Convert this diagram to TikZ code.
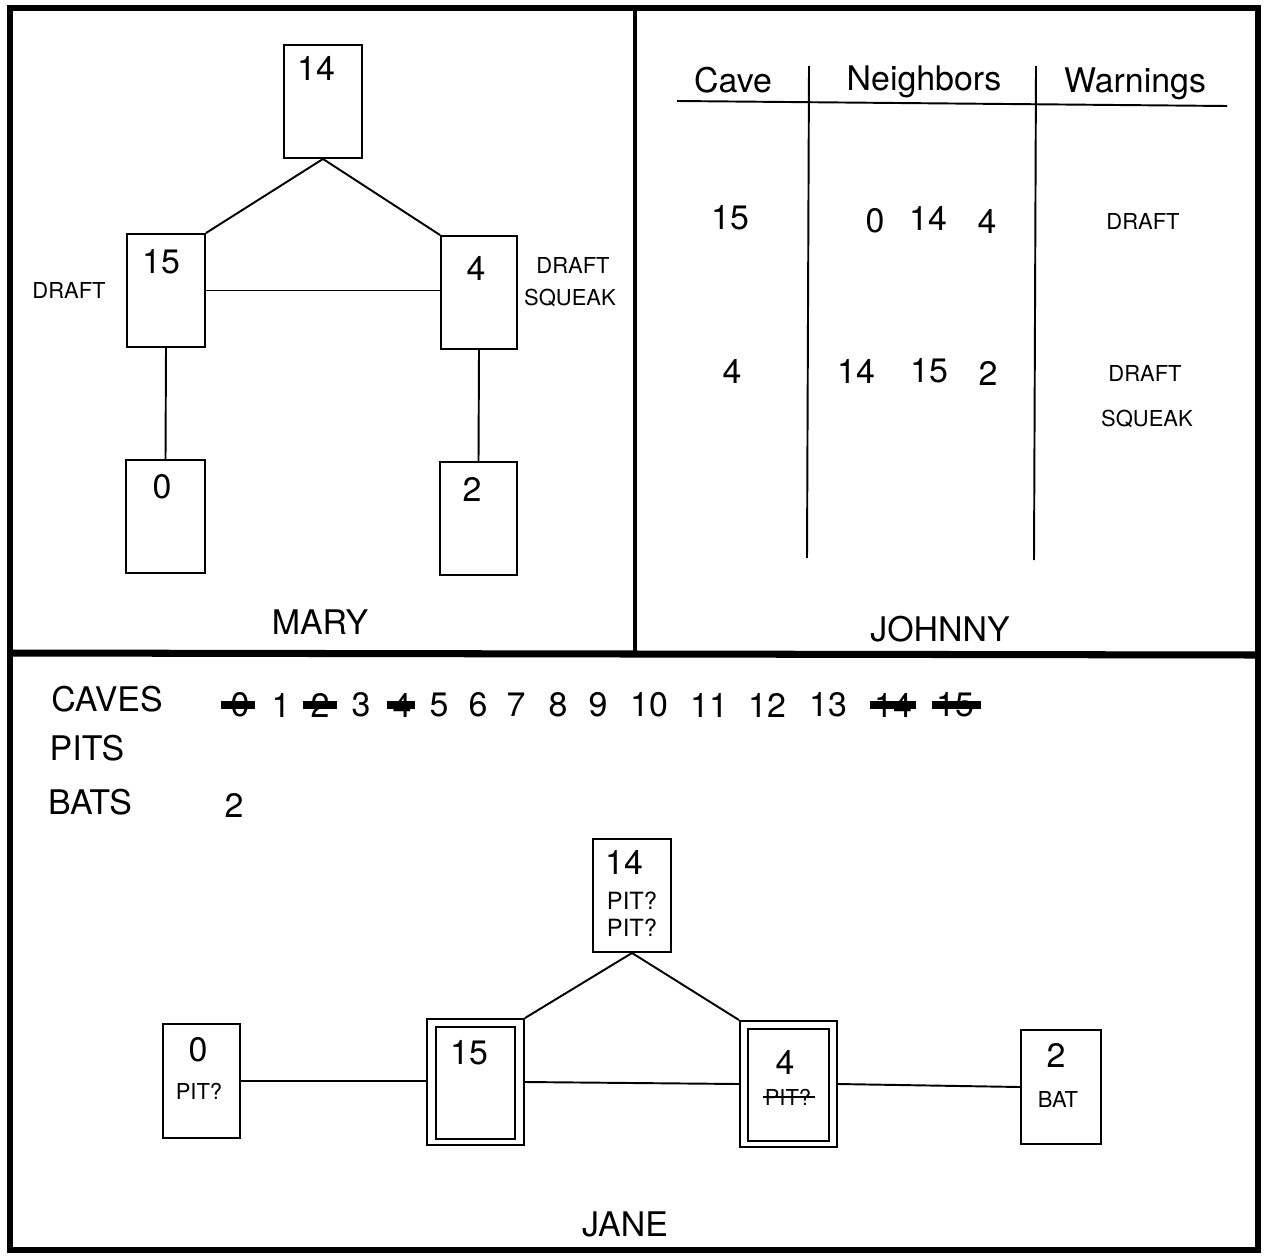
\documentclass[tikz,border=0pt]{standalone}
\usepackage{fontspec}
\setmainfont{TeX Gyre Heros}
\begin{document}
\begin{tikzpicture}[x=0.02cm,y=-0.02cm,
  big/.style={font=\fontsize{19.3}{21}\selectfont, inner sep=0pt},
  small/.style={font=\fontsize{12.5}{14}\selectfont, inner sep=0pt},
  box/.style={draw, line width=1.1pt, rectangle, inner sep=0pt},
  link/.style={line width=1.1pt},
  frame/.style={line width=3.5pt},
  strike/.style={line width=4.8pt},
  thinstrike/.style={line width=1.2pt}]
\useasboundingbox (0,0) rectangle (1267,1257);
% outer frame and dividers
\draw[frame] (10,8) rectangle (1258,1250);
\draw[line width=2.5pt] (635,8) -- (635,652);
\draw[line width=4pt] (10,653) -- (1258,655);

% ---------------- MARY ----------------
\node[box, minimum width=1.56cm, minimum height=2.26cm] (m14) at (323,101.5) {};
\node[box, minimum width=1.56cm, minimum height=2.26cm] (m15) at (166,290.5) {};
\node[box, minimum width=1.52cm, minimum height=2.26cm] (m4) at (479,292.5) {};
\node[box, minimum width=1.58cm, minimum height=2.26cm] (m0) at (165.5,516.5) {};
\node[box, minimum width=1.54cm, minimum height=2.26cm] (m2) at (478.5,518.5) {};
\node[big] (m14t) at (316,68) {14};
\node[big] (m15t) at (161,262) {15};
\node[big] (m4t) at (476,268) {4};
\node[big] (m0t) at (162,487) {0};
\node[big] (m2t) at (472,489) {2};
\draw[link] (m14.south) -- (m15.north east);
\draw[link] (m14.south) -- (m4.north west);
\draw[link] (m15.east) -- (m15.east -| m4.west);
\draw[link] (m15.south) -- (m0.north);
\draw[link] (m4.south) -- (m2.north);
\node[small] (md1) at (69,290) {DRAFT};
\node[small] (md2) at (573,265) {DRAFT};
\node[small] (ms2) at (570,298) {SQUEAK};
\node[big] (mary) at (320,622) {MARY};

% ---------------- JOHNNY ----------------
\node[big] (hcave) at (733,80) {Cave};
\node[big] (hnb) at (924,82) {Neighbors};
\node[big] (hwarn) at (1135,84) {Warnings};
\coordinate (hl1) at (677,101);
\coordinate (hl2) at (1227,106);
\draw[link] (hl1) -- (hl2);
\coordinate (v1a) at (809,66); \coordinate (v1b) at (807,558);
\coordinate (v2a) at (1036,66); \coordinate (v2b) at (1034,560);
\draw[link] (v1a) -- (v1b);
\draw[link] (v2a) -- (v2b);
\node[big] (r1c) at (730,218) {15};
\node[big] (r1a) at (875,221) {0};
\node[big] (r1b) at (928,218) {14};
\node[big] (r1d) at (987,221) {4};
\node[small] (r1w) at (1143,221) {DRAFT};
\node[big] (r2c) at (732,371) {4};
\node[big] (r2a) at (856,371) {14};
\node[big] (r2b) at (929,371) {15};
\node[big] (r2d) at (988,373) {2};
\node[small] (r2w) at (1145,373) {DRAFT};
\node[small] (r2s) at (1147,419) {SQUEAK};
\node[big] (johnny) at (940,629) {JOHNNY};

% ---------------- JANE ----------------
\node[big] (caves) at (107,699) {CAVES};
\node[big] (pits) at (87,748) {PITS};
\node[big] (bats) at (90,802) {BATS};
\node[big] (bat2) at (234,805) {2};
\foreach \n/\x in {0/240,1/281,2/320,3/361,4/402,5/439,6/478,7/516,8/558,9/598,10/649,11/709,12/767,13/828,14/893,15/955}
  \node[big] (c\n) at (\x,705) {\n};
\draw[strike] ([xshift=-5pt]c0.west) -- ([xshift=3pt]c0.east);
\draw[strike] ([xshift=-4pt]c2.west) -- ([xshift=4pt]c2.east);
\draw[strike] ([xshift=-3pt]c4.west) -- ([xshift=2pt]c4.east);
\draw[strike] ([xshift=-2pt]c14.west) -- ([xshift=2pt]c14.east);
\draw[strike] ([xshift=-2pt]c15.west) -- ([xshift=4pt]c15.east);

\node[box, minimum width=1.56cm, minimum height=2.26cm] (j14) at (632,895.5) {};
\node[big] (j14t) at (624,862) {14};
\node[small, font=\fontsize{13.5}{15}\selectfont] (j14p1) at (632,901) {PIT?};
\node[small, font=\fontsize{13.5}{15}\selectfont] (j14p2) at (632,928) {PIT?};

\node[box, minimum width=1.54cm, minimum height=2.28cm] (j0) at (201.5,1081) {};
\node[big] (j0t) at (198,1050) {0};
\node[small] (j0p) at (199,1091) {PIT?};

\node[box, minimum width=1.94cm, minimum height=2.52cm] (j15) at (475.5,1082) {};
\node[box, minimum width=1.58cm, minimum height=2.24cm] (j15i) at (475.5,1083) {};
\node[big] (j15t) at (469,1053) {15};

\node[box, minimum width=1.94cm, minimum height=2.52cm] (j4) at (788.5,1084) {};
\node[box, minimum width=1.62cm, minimum height=2.24cm] (j4i) at (788.5,1085) {};
\node[big] (j4t) at (785,1062) {4};
\node[small] (j4p) at (788,1097) {PIT?};
\draw[thinstrike] ([xshift=-1pt]j4p.west) -- ([xshift=2pt]j4p.east);

\node[box, minimum width=1.60cm, minimum height=2.28cm] (j2) at (1061,1087) {};
\node[big] (j2t) at (1056,1055) {2};
\node[small] (j2b) at (1058,1099) {BAT};

\draw[link] (j14.south) -- (j15.north east);
\draw[link] (j14.south) -- (j4.north west);
\draw[link] (j0.east) -- (j0.east -| j15.west);
\draw[link] (j15.east) -- (j4.west);
\draw[link] (j4.east) -- (j2.west);
\node[big] (jane) at (625,1224) {JANE};
\end{tikzpicture}
\end{document}
